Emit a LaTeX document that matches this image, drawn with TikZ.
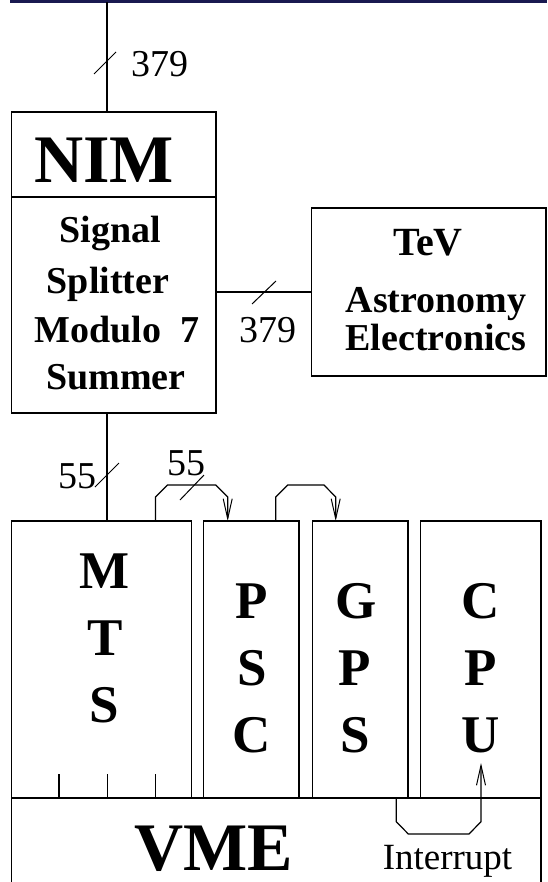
\documentclass[tikz,border=0pt]{standalone}
\usepackage{fontspec}
\setmainfont{Liberation Serif}
\usetikzlibrary{arrows.meta,calc}
\definecolor{navybar}{RGB}{25,25,80}
\tikzset{
  box/.style={draw,line width=1.2pt,rectangle,inner sep=0pt,outer sep=0pt},
  wire/.style={line width=1.2pt},
  slashmark/.style={line width=1pt},
  arr/.style={line width=1.2pt,-{Straight Barb[length=20pt,width=9pt,line width=1pt]}},
  big/.style={font=\fontsize{68}{68}\selectfont\bfseries,inner sep=0pt,anchor=base},
  mid/.style={font=\fontsize{38}{38}\selectfont\bfseries,inner sep=0pt,anchor=base},
  vlet/.style={font=\fontsize{53}{53}\selectfont\bfseries,inner sep=0pt,anchor=base},
  num/.style={font=\fontsize{38}{38}\selectfont,inner sep=0pt,anchor=base},
}
\begin{document}
\begin{tikzpicture}[x=1pt,y=-1pt]
\useasboundingbox (0,0) rectangle (547,882);
% top bar
\draw[navybar,line width=3pt] (11,0) -- (11,2) -- (547,2);
% boxes
\node[box,minimum width=204.5pt,minimum height=301pt] (nim) at (113.75,262.5) {};
\draw[wire] (nim.west |- 0,197) -- (nim.east |- 0,197);
\node[box,minimum width=234.3pt,minimum height=168pt] (tev) at (428.85,292) {};
\node[box,minimum width=180.2pt,minimum height=277pt] (mts) at (101.6,659.5) {};
\node[box,minimum width=95.7pt,minimum height=277pt] (psc) at (251.15,659.5) {};
\node[box,minimum width=95.7pt,minimum height=277pt] (gps) at (360.15,659.5) {};
\node[box,minimum width=120.7pt,minimum height=277pt] (cpu) at (480.65,659.5) {};
% VME (open at bottom)
\coordinate (vmetl) at (11.5,798);
\coordinate (vmetr) at (541,798);
\draw[wire] (11.5,882) -- (vmetl) -- (vmetr) -- (541,882);
% ticks
\foreach \x in {59,107.3,155.7} \draw[wire] (\x,774) -- (\x,798);
% connectors
\coordinate (topin) at (107,2);
\draw[wire] (topin) -- (topin |- nim.north);
\draw[slashmark] (94,74) -- (116,52);
\node[num] (n379a) at (160,77) {379};
\draw[wire] (nim.east |- 0,292) -- (tev.west |- 0,292);
\draw[slashmark] (252,304) -- (276,281);
\node[num] (n379b) at (268,342) {379};
\coordinate (nimout) at (107,413);
\draw[wire] (nimout) -- (nimout |- mts.north);
\draw[slashmark] (95,487) -- (119,463);
\node[num] (n55a) at (77,488) {55};
% loops
\coordinate (l1s) at (155.5,521);
\coordinate (l1e) at (227.7,521);
\draw[arr] (l1s) -- (155.5,497) -- (167.5,485) -- (215.7,485) -- (227.7,497) -- (l1e);
\draw[slashmark] (180,500) -- (204,475);
\node[num] (n55b) at (186,475) {55};
\coordinate (l2s) at (275.7,521);
\coordinate (l2e) at (335.7,521);
\draw[arr] (l2s) -- (275.7,497) -- (287.7,485) -- (324,485) -- (335.7,497) -- (l2e);
\coordinate (irs) at (396.3,798);
\coordinate (ire) at (481,763);
\draw[arr] (irs) -- (396.3,821.7) -- (408.3,834) -- (469,834) -- (481,821.7) -- (ire);
% texts
\node[big] (tnim) at (104,183) {NIM};
\node[mid] (t1) at (110,243) {Signal};
\node[mid] (t2) at (108,293) {Splitter};
\node[mid] (t3) at (117,342) {Modulo~~7};
\node[mid] (t4) at (116,389) {Summer};
\node[font=\fontsize{40}{40}\selectfont\bfseries,inner sep=0pt,anchor=base] (tt1) at (428,255) {TeV};
\node[mid] (tt2) at (436,312) {Astronomy};
\node[mid] (tt3) at (436,350) {Electronics};
\node[vlet] (m1) at (105,588) {M};
\node[vlet] (m2) at (105,655) {T};
\node[vlet] (m3) at (104,722) {S};
\node[vlet] (p1) at (252,618) {P};
\node[vlet] (p2) at (252,685) {S};
\node[vlet] (p3) at (252,752) {C};
\node[vlet] (g1) at (356,618) {G};
\node[vlet] (g2) at (355,685) {P};
\node[vlet] (g3) at (355,752) {S};
\node[vlet] (c1) at (481,618) {C};
\node[vlet] (c2) at (481,685) {P};
\node[vlet] (c3) at (481,752) {U};
\node[big] (tvme) at (214,870) {VME};
\node[font=\fontsize{37}{37}\selectfont,inner sep=0pt,anchor=base] (tint) at (447.5,869) {Interrupt};
\end{tikzpicture}
\end{document}
